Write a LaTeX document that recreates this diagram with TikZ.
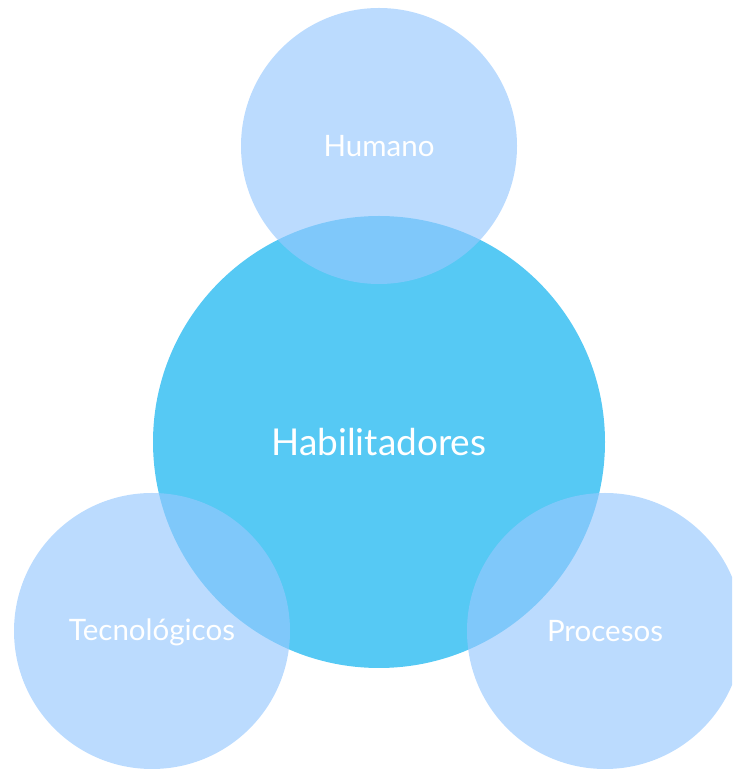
\documentclass[tikz,border=0pt]{standalone}
\usepackage{fontspec}
\setmainfont{Lato}
\definecolor{hubblue}{RGB}{86,201,244}
\definecolor{petalblue}{RGB}{150,200,254}
\tikzset{
  hub/.style={circle, fill=hubblue, minimum size=452pt, inner sep=0pt},
  petal/.style={circle, fill=petalblue, fill opacity=.65, text opacity=1,
    minimum size=276pt, inner sep=0pt},
  bigtxt/.style={text=white, font=\fontsize{37}{44}\selectfont},
  smalltxt/.style={text=white, font=\fontsize{29.5}{35}\selectfont}
}
\begin{document}
\begin{tikzpicture}[x=1pt, y=1pt]
    \useasboundingbox (0,0) rectangle (732,771);
    \clip (0,0) rectangle (732,771);

    \node[hub] (hab) at (379,329) {};
    \node[petal] (hum) at (379,625) {};
    \node[petal] (tec) at (152,140) {};
    \node[petal] (pro) at (605,140) {};

    \node[bigtxt] at (hab) {Habilitadores};
    \node[smalltxt] at (hum) {Humano};
    \node[smalltxt] at ([yshift=-1pt]tec) {Tecnológicos};
    \node[smalltxt] at (pro) {Procesos};

  \end{tikzpicture}
\end{document}
